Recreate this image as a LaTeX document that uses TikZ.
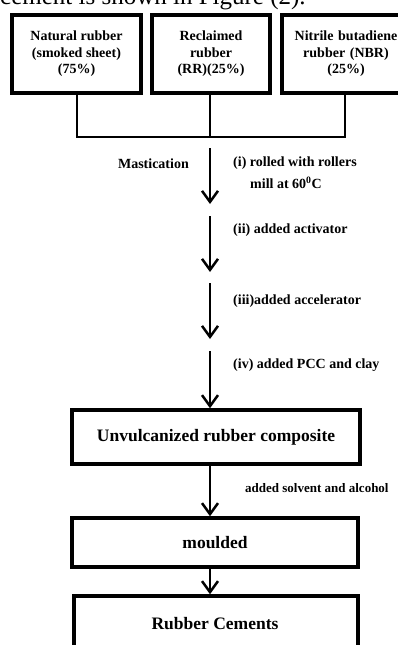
\documentclass[tikz,border=0pt]{standalone}
\usepackage{fontspec}
\setmainfont{Liberation Serif}
\usetikzlibrary{arrows.meta}
\begin{document}
\begin{tikzpicture}[x=1pt,y=-1pt,
  topbox/.style={draw,line width=4pt,inner sep=0pt,align=center,font=\fontsize{14}{16.5}\selectfont\bfseries},
  mainbox/.style={draw,line width=3.5pt,inner sep=0pt,align=center,font=\fontsize{17.5}{20}\selectfont\bfseries},
  conn/.style={line width=2.5pt},
  flow/.style={line width=2.5pt,-{Straight Barb[length=11pt,width=16pt,line width=2.5pt]}},
  lbl/.style={inner sep=0pt,font=\fontsize{14}{16}\selectfont\bfseries}]
\useasboundingbox (0,0) rectangle (398,645);
% cut-off caption line
\node[anchor=base west,inner sep=0pt,font=\fontsize{25}{28}\selectfont] (cap) at (0,5) {cement is shown in Figure (2).};
% top boxes
\node[topbox,minimum width=129,minimum height=78] (nr) at (76.5,54) {Natural rubber\\(smoked sheet)\\(75\%)};
\node[topbox,minimum width=118,minimum height=78] (rr) at (211,54) {Reclaimed\\rubber\\(RR)(25\%)};
\node[topbox,minimum width=128,minimum height=78,text width=112] (nbr) at (346,54) {Nitrile butadiene\\rubber (NBR)\\(25\%)};
% joining lines
\coordinate (jl) at (77,137);
\coordinate (jm) at (210,137);
\coordinate (jr) at (345,137);
\draw[conn] (nr.south -| jl) -- (jl) -- (jr) -- (nbr.south -| jr);
\draw[conn] (rr.south -| jm) -- (jm);
% process arrows
\coordinate (s1) at (210,148); \coordinate (e1) at (210,204);
\coordinate (s2) at (210,216); \coordinate (e2) at (210,272);
\coordinate (s3) at (210,283); \coordinate (e3) at (210,339);
\coordinate (s4) at (210,351);
\draw[flow] (s1) -- (e1);
\draw[flow] (s2) -- (e2);
\draw[flow] (s3) -- (e3);
% lower boxes
\node[mainbox,minimum width=288,minimum height=54] (uv) at (216,437) {Unvulcanized rubber composite};
\node[mainbox,minimum width=286,minimum height=49] (mo) at (215,542.5) {moulded};
\node[mainbox,minimum width=284,minimum height=64] (rc) at (216,628) {};
\node[inner sep=0pt,font=\fontsize{17.5}{20}\selectfont\bfseries] (rct) at (215,624) {Rubber Cements};
\draw[flow] (s4) -- (s4 |- uv.north);
\draw[flow] (s4 |- uv.south) -- (s4 |- mo.north);
\draw[flow] (s4 |- mo.south) -- (s4 |- rc.north);
% labels
\node[lbl,anchor=east] (mast) at (189,164) {Mastication};
\node[lbl,anchor=west] (l1a) at (233,163) {(i) rolled with rollers};
\node[lbl,anchor=west] (l1b) at (250,183) {mill at 60\textsuperscript{0}C};
\node[lbl,anchor=west] (l2) at (233,230) {(ii) added activator};
\node[lbl,anchor=west] (l3) at (233,301) {(iii)added accelerator};
\node[lbl,anchor=west] (l4) at (233,365) {(iv) added PCC and clay};
\node[lbl,anchor=west,font=\fontsize{13}{16}\selectfont\bfseries] (l5) at (245,488) {added solvent and alcohol};
\end{tikzpicture}
\end{document}
